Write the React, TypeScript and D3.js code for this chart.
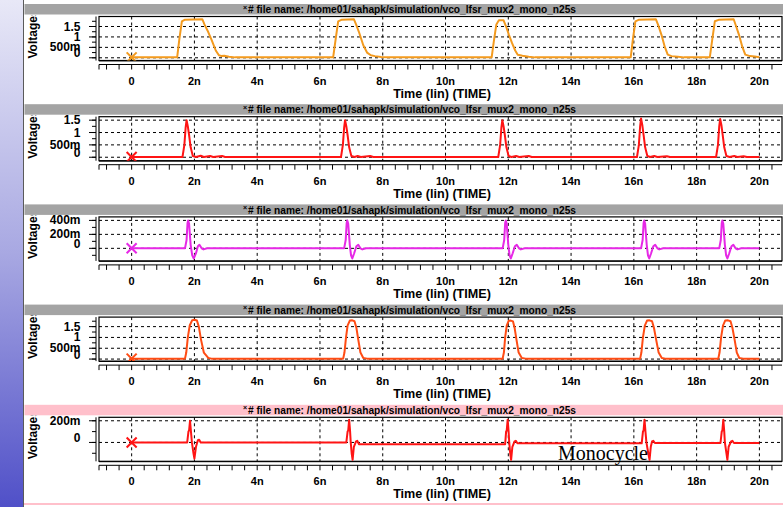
import React from "react";
import * as d3 from "d3";

// ---------- data ----------
const TITLE = "# file name: /home01/sahapk/simulation/vco_lfsr_mux2_mono_n25s";
const X_AXIS_TITLE = "Time (lin) (TIME)";
const Y_AXIS_TITLE = "Voltages";
const TIME_TICKS = [0, 2, 4, 6, 8, 10, 12, 14, 16, 18, 20];
const TIME_LABELS = ["0", "2n", "4n", "6n", "8n", "10n", "12n", "14n", "16n", "18n", "20n"];

const VOLT_TICKS_BIG = [0, 0.5, 1, 1.5];
const VOLT_LABELS_BIG = ["0", "500m", "1", "1.5"];
const VOLT_TICKS_MONO = [0, 0.2, 0.4];
const VOLT_LABELS_MONO = ["0", "200m", "400m"];
const VOLT_TICKS_SMALL = [0, 0.2];
const VOLT_LABELS_SMALL = ["0", "200m"];

// trace 1: orange data pulses [time ns, volts]
const TRACE1: [number, number][] = [
  [0, 0.02], [1.45, 0.02], [1.52, 0.9], [1.6, 1.75], [1.7, 1.83], [2.25, 1.85], [2.32, 1.6], [2.42, 1.3], [2.55, 0.85], [2.68, 0.35], [2.78, 0.12], [2.85, 0.09], [2.95, 0.1], [3.1, 0.05], [3.3, 0.02],
  [6.42, 0.02], [6.5, 0.9], [6.58, 1.75], [6.7, 1.83], [7.08, 1.85], [7.15, 1.6], [7.25, 1.2], [7.38, 0.6], [7.5, 0.25], [7.62, 0.12], [7.75, 0.08], [7.95, 0.04], [8.15, 0.02],
  [11.47, 0.02], [11.54, 0.8], [11.62, 1.6], [11.7, 1.8], [11.85, 1.8], [11.93, 1.5], [12.02, 1.1], [12.12, 0.7], [12.22, 0.35], [12.3, 0.15], [12.45, 0.1], [12.65, 0.05], [12.85, 0.02],
  [15.9, 0.02], [15.97, 0.9], [16.05, 1.75], [16.15, 1.82], [16.7, 1.85], [16.78, 1.55], [16.88, 1.1], [16.98, 0.55], [17.08, 0.15], [17.2, 0.08], [17.4, 0.05], [17.6, 0.02],
  [18.42, 0.02], [18.5, 0.9], [18.58, 1.75], [18.7, 1.82], [19.18, 1.85], [19.25, 1.55], [19.35, 1.1], [19.45, 0.55], [19.55, 0.15], [19.7, 0.08], [19.85, 0.06], [20.0, 0.03],
];

// trace 2: red narrow spikes
const TRACE2: [number, number][] = [
  [0, 0.01], [1.62, 0.01], [1.68, 0.5], [1.72, 1.2], [1.75, 1.5], [1.79, 1.25], [1.83, 0.9], [1.88, 0.4], [1.95, 0.05], [2.05, 0.01], [2.2, 0.06], [2.3, 0.01], [2.5, 0.05], [2.6, 0.01], [2.88, 0.05], [2.98, 0.01],
  [6.67, 0.01], [6.73, 0.5], [6.77, 1.2], [6.8, 1.5], [6.84, 1.25], [6.88, 0.9], [6.93, 0.4], [7.0, 0.05], [7.1, 0.01], [7.2, 0.05], [7.3, 0.01], [7.6, 0.05], [7.7, 0.01],
  [11.68, 0.01], [11.74, 0.5], [11.78, 1.2], [11.81, 1.5], [11.85, 1.25], [11.89, 0.9], [11.94, 0.4], [12.01, 0.05], [12.1, 0.01], [12.25, 0.05], [12.35, 0.01], [12.65, 0.05], [12.75, 0.01],
  [16.1, 0.01], [16.16, 0.5], [16.2, 1.25], [16.23, 1.57], [16.27, 1.3], [16.31, 0.9], [16.36, 0.4], [16.43, 0.05], [16.52, 0.01], [16.65, 0.05], [16.75, 0.01], [17.05, 0.04], [17.15, 0.01],
  [18.62, 0.01], [18.68, 0.5], [18.72, 1.25], [18.75, 1.55], [18.79, 1.3], [18.83, 0.9], [18.88, 0.4], [18.95, 0.05], [19.05, 0.01], [19.2, 0.05], [19.3, 0.01], [19.5, 0.04], [19.6, 0.01], [20, 0.01],
];

// trace 3: magenta monocycles
const TRACE3: [number, number][] = [
  [0, 0], [1.7, 0], [1.75, 0.12], [1.78, 0.36], [1.8, 0.4], [1.83, 0.35], [1.88, 0.05], [1.93, -0.1], [1.98, -0.145], [2.05, -0.07], [2.11, 0.03], [2.16, 0.05], [2.23, 0.0], [2.29, -0.015], [2.4, 0],
  [6.77, 0], [6.82, 0.12], [6.85, 0.36], [6.87, 0.4], [6.9, 0.35], [6.95, 0.05], [6.99, -0.1], [7.03, -0.145], [7.09, -0.07], [7.16, 0.03], [7.22, 0.05], [7.29, 0.0], [7.35, -0.015], [7.47, 0],
  [11.82, 0], [11.87, 0.12], [11.9, 0.36], [11.92, 0.4], [11.95, 0.35], [12.0, 0.05], [12.04, -0.1], [12.08, -0.145], [12.14, -0.07], [12.21, 0.03], [12.27, 0.05], [12.34, 0.0], [12.4, -0.015], [12.52, 0],
  [16.23, 0], [16.28, 0.12], [16.31, 0.36], [16.33, 0.4], [16.36, 0.35], [16.41, 0.05], [16.45, -0.1], [16.49, -0.145], [16.55, -0.07], [16.62, 0.03], [16.68, 0.05], [16.75, 0.0], [16.81, -0.015], [16.93, 0],
  [18.72, 0], [18.77, 0.12], [18.8, 0.36], [18.82, 0.4], [18.85, 0.35], [18.9, 0.05], [18.94, -0.1], [18.98, -0.145], [19.04, -0.07], [19.11, 0.03], [19.17, 0.05], [19.24, 0.0], [19.3, -0.015], [19.42, 0], [20, 0],
];

// trace 4: orange-red data pulses
const TRACE4: [number, number][] = [
  [0, 0.02], [1.7, 0.02], [1.74, 0.3], [1.79, 1.0], [1.85, 1.55], [1.93, 1.8], [2.0, 1.82], [2.08, 1.78], [2.14, 1.5], [2.21, 0.9], [2.3, 0.3], [2.44, 0.05], [2.54, 0.02],
  [6.74, 0.02], [6.78, 0.3], [6.83, 1.0], [6.88, 1.55], [6.95, 1.78], [7.03, 1.79], [7.1, 1.75], [7.16, 1.45], [7.22, 0.9], [7.29, 0.3], [7.38, 0.05], [7.5, 0.02],
  [11.82, 0.02], [11.86, 0.3], [11.9, 1.0], [11.95, 1.55], [12.01, 1.77], [12.08, 1.78], [12.15, 1.74], [12.2, 1.45], [12.26, 0.9], [12.33, 0.3], [12.43, 0.05], [12.55, 0.02],
  [16.2, 0.02], [16.24, 0.3], [16.29, 1.0], [16.35, 1.55], [16.42, 1.78], [16.5, 1.79], [16.58, 1.75], [16.64, 1.45], [16.71, 0.9], [16.79, 0.3], [16.89, 0.05], [17.0, 0.02],
  [18.69, 0.02], [18.73, 0.3], [18.78, 1.0], [18.84, 1.55], [18.91, 1.78], [19.0, 1.79], [19.08, 1.75], [19.14, 1.45], [19.21, 0.9], [19.28, 0.3], [19.36, 0.05], [19.48, 0.02], [20, 0.02],
];

// trace 5: red monocycles
const TRACE5: [number, number][] = [
  [0, 0], [1.77, 0], [1.81, 0.1], [1.83, 0.11], [1.86, 0.2], [1.89, 0.1], [1.92, 0.0], [1.97, -0.1], [2.0, -0.15], [2.05, -0.04], [2.11, 0.02], [2.15, 0.025], [2.2, 0],
  [6.84, 0], [6.88, 0.1], [6.9, 0.11], [6.93, 0.21], [6.96, 0.1], [6.98, 0.0], [7.01, -0.1], [7.04, -0.16], [7.08, -0.04], [7.15, 0.01], [7.19, 0.015], [7.24, -0.016],
  [11.9, -0.016], [11.93, 0.1], [11.95, 0.11], [11.98, 0.21], [12.01, 0.1], [12.03, 0], [12.06, -0.1], [12.09, -0.16], [12.13, -0.04], [12.2, 0.01], [12.24, 0.015], [12.29, -0.008],
  [16.25, -0.008], [16.29, 0.1], [16.31, 0.11], [16.34, 0.21], [16.37, 0.1], [16.4, 0], [16.46, -0.1], [16.5, -0.16], [16.54, -0.04], [16.58, 0.01], [16.62, 0.015], [16.67, -0.005],
  [18.76, -0.005], [18.8, 0.1], [18.82, 0.11], [18.85, 0.21], [18.88, 0.1], [18.9, 0], [18.95, -0.1], [18.98, -0.16], [19.02, -0.04], [19.1, 0.01], [19.14, 0.015], [19.19, -0.005], [20, -0.005],
];

const ANNOTATION = "Monocycle";

// ---------- layout ----------
const W = 783;
const H = 507;
const PLOT_L = 99;
const PLOT_R = 782;
const PANEL_X0 = 24;

type Panel = {
  data: [number, number][];
  color: string;
  yDomain: [number, number];
  ticks: number[];
  labels: string[];
  minor: number;
  bar: string;
};

const PANELS: Panel[] = [
  { data: TRACE1, color: "#f39a1e", yDomain: [-0.13, 1.98], ticks: VOLT_TICKS_BIG, labels: VOLT_LABELS_BIG, minor: 0.25, bar: "#a4a4a4" },
  { data: TRACE2, color: "#ff1414", yDomain: [-0.14, 1.64], ticks: VOLT_TICKS_BIG, labels: VOLT_LABELS_BIG, minor: 0.25, bar: "#a4a4a4" },
  { data: TRACE3, color: "#e628e6", yDomain: [-0.18, 0.45], ticks: VOLT_TICKS_MONO, labels: VOLT_LABELS_MONO, minor: 0.1, bar: "#a4a4a4" },
  { data: TRACE4, color: "#ff4c14", yDomain: [-0.094, 1.94], ticks: VOLT_TICKS_BIG, labels: VOLT_LABELS_BIG, minor: 0.25, bar: "#a4a4a4" },
  { data: TRACE5, color: "#ff1414", yDomain: [-0.174, 0.232], ticks: VOLT_TICKS_SMALL, labels: VOLT_LABELS_SMALL, minor: 0.1, bar: "#ffc0cb" },
];

const SANS = "'Liberation Sans', Arial, sans-serif";

export default function App() {
  const x = d3.scaleLinear().domain([-1.04, 20.72]).range([PLOT_L, PLOT_R]);
  const minorX = d3.range(-0.8, 20.6, 0.4);

  return (
    <svg width={W} height={H} style={{ position: "absolute", left: 0, top: 0, background: "#fff" }}>
      <defs>
        <linearGradient id="sideGrad" x1="0" y1="0" x2="0" y2="1">
          <stop offset="0" stopColor="#e8e8f7" />
          <stop offset="0.5" stopColor="#a8a8e2" />
          <stop offset="1" stopColor="#5050c8" />
        </linearGradient>
      </defs>
      <rect x={0} y={0} width={W} height={H} fill="#fff" />
      <rect x={0} y={0} width={23} height={H} fill="url(#sideGrad)" />
      <line x1={23.5} x2={23.5} y1={0} y2={H} stroke="#5a5a5a" strokeWidth={1} />

      {PANELS.map((p, i) => {
        const T = 3.5 + 100.2 * i;
        const top = T + 13;
        const bot = T + 57;
        const y = d3.scaleLinear().domain(p.yDomain).range([bot, top]);
        const minorY = d3.range(Math.ceil(p.yDomain[0] / p.minor) * p.minor, p.yDomain[1], p.minor);
        const line = d3
          .line<[number, number]>()
          .x((d) => x(d[0]))
          .y((d) => y(d[1]));
        const axisY = T + 61;
        const x0 = x(p.data[0][0]);
        const y0 = y(p.data[0][1]);
        return (
          <g key={i}>
            <defs>
              <clipPath id={`clip${i}`}>
                <rect x={PLOT_L} y={top} width={PLOT_R - PLOT_L} height={bot - top} />
              </clipPath>
              <clipPath id={`lab${i}`}>
                <rect x={PANEL_X0} y={T + 11.5} width={70} height={60} />
              </clipPath>
            </defs>
            {/* title bar */}
            <rect x={PANEL_X0 + 0.5} y={T + 0.5} width={W - PANEL_X0} height={10.5} fill={p.bar} />
            <text x={243} y={T + 6} fontFamily={SANS} fontSize={7} fontWeight="bold" fill="#000">×</text>
            <text x={248} y={T + 9.6} fontFamily={SANS} fontSize={10} fontWeight="bold" fill="#000" textLength={328} lengthAdjust="spacingAndGlyphs">
              {TITLE}
            </text>

            {/* y label */}
            <g clipPath={`url(#lab${i})`}>
              <text
                transform={`translate(37,${T + 55}) rotate(-90)`}
                fontFamily={SANS}
                fontSize={12}
                fontWeight="bold"
                fill="#000"
              >
                {Y_AXIS_TITLE}
              </text>
            </g>

            {/* grid */}
            {TIME_TICKS.map((t) => (
              <line key={`gv${t}`} x1={x(t)} x2={x(t)} y1={top} y2={bot} stroke="#000" strokeWidth={1} strokeDasharray="3,3" />
            ))}
            {p.ticks.map((v) => (
              <line key={`gh${v}`} x1={PLOT_L} x2={PLOT_R} y1={y(v)} y2={y(v)} stroke="#000" strokeWidth={1} strokeDasharray="3,3" />
            ))}

            {/* plot box */}
            <rect x={PLOT_L} y={top} width={PLOT_R - PLOT_L} height={bot - top} fill="none" stroke="#000" strokeWidth={1.2} />
            <line x1={PLOT_L} x2={PLOT_R} y1={bot + 0.4} y2={bot + 0.4} stroke="#000" strokeWidth={1} />

            {/* y axis */}
            <line x1={96} x2={96} y1={top} y2={bot} stroke="#000" strokeWidth={1} />
            {minorY.map((v, k) => (
              <line key={`my${k}`} x1={92} x2={96} y1={y(v)} y2={y(v)} stroke="#000" strokeWidth={1} />
            ))}
            {p.ticks.map((v) => (
              <line key={`ty${v}`} x1={89} x2={96} y1={y(v)} y2={y(v)} stroke="#000" strokeWidth={1} />
            ))}
            {p.ticks.map((v, k) => (
              <text
                key={`ly${v}`}
                x={80.5}
                y={y(v) + (v === 0 ? -4.5 : 0)}
                textAnchor="end"
                dominantBaseline="central"
                fontFamily={SANS}
                fontSize={12}
                fontWeight="bold"
                fill="#000"
              >
                {p.labels[k]}
              </text>
            ))}

            {/* x axis */}
            <line x1={PLOT_L} x2={PLOT_R} y1={axisY} y2={axisY} stroke="#000" strokeWidth={1} />
            <line x1={PLOT_L} x2={PLOT_L} y1={axisY} y2={axisY + 5} stroke="#000" strokeWidth={1} />
            {minorX.map((t, k) => (
              <line key={`mx${k}`} x1={x(t)} x2={x(t)} y1={axisY} y2={axisY + 5} stroke="#000" strokeWidth={1} />
            ))}
            {TIME_TICKS.map((t, k) => (
              <text
                key={`lx${t}`}
                x={x(t)}
                y={axisY + 20}
                textAnchor="middle"
                fontFamily={SANS}
                fontSize={11}
                fontWeight="bold"
                fill="#000"
              >
                {TIME_LABELS[k]}
              </text>
            ))}
            <text x={442} y={axisY + 33} textAnchor="middle" fontFamily={SANS} fontSize={12.6} fontWeight="bold" fill="#000">
              {X_AXIS_TITLE}
            </text>

            {/* trace */}
            <g clipPath={`url(#clip${i})`}>
              <path d={line(p.data) || ""} fill="none" stroke={p.color} strokeWidth={2} strokeLinejoin="round" />
              <line x1={x0 - 5} x2={x0 + 5} y1={y0 - 5} y2={y0 + 5} stroke={p.color} strokeWidth={2} />
              <line x1={x0 - 5} x2={x0 + 5} y1={y0 + 5} y2={y0 - 5} stroke={p.color} strokeWidth={2} />
            </g>
          </g>
        );
      })}

      <text x={558} y={459.5} fontFamily="'Liberation Serif', 'Times New Roman', serif" fontSize={20} fill="#000">
        {ANNOTATION}
      </text>
      <rect x={PANEL_X0} y={503} width={W - PANEL_X0} height={2} fill="#ffc0cb" />
    </svg>
  );
}
